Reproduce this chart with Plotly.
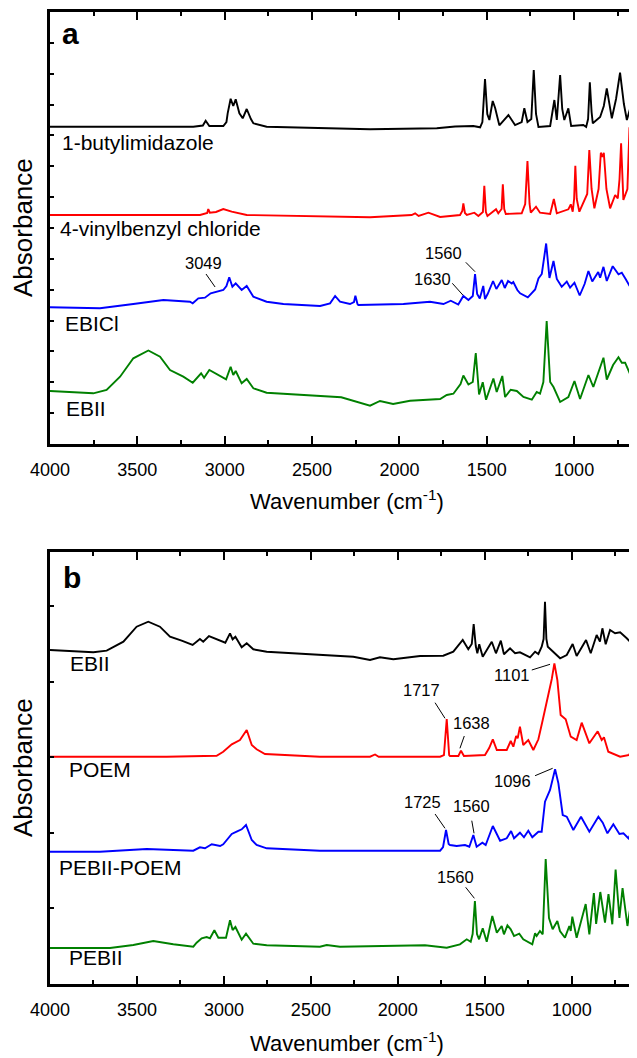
import plotly.graph_objects as go

# ---------------- data (wavenumber cm-1, absorbance in arbitrary stacked units) ----------------
# Panel a
a_butylimidazole = [(4000,317.3),(3180,317.3),(3125,318.5),(3109,323.3),(3088,318),(3008,318),(2990,322),(2983,330.7),
    (2966,345.3),(2951,338),(2937,344.7),(2916,330.7),(2897,325.7),(2874,335),(2850,325),(2836,320.7),(2760,317.3),
    (2454,316),(2168,314.7),(1786,315.7),(1681,317.5),(1577,318),(1538,316.7),(1525,322),(1510,365),(1497,330),
    (1485,324),(1466,343),(1452,336),(1428,318.7),(1376,329),(1338,319),(1300,322),(1285,335.7),(1267,322),(1245,325),
    (1231,374),(1218,330),(1204,317),(1137,318),(1113,344),(1099,324),(1080,369),(1068,335),(1056,324),(1033,335.7),
    (1017,318),(947,319),(931,317),(920,325),(910,361.7),(900,332),(893,320.7),(851,327),(830,338),(813,355.7),
    (795,335),(784,325.7),(760,345),(737,371.3),(715,340),(698,324),(672,340),(666,413.3),(660,340),(655,324),(640,332)]
a_vinylbenzyl = [(4000,229),(3141,229),(3100,231),(3094,235),(3085,231.3),(3050,232),(3008,235),(2960,232.3),(2874,229),
    (2454,228),(2168,226.7),(1930,229),(1910,230.7),(1890,228),(1834,231.3),(1767,227),(1653,229),(1640,233),(1634,240.7),
    (1625,231),(1614,229),(1571,231.3),(1548,228),(1522,232),(1514,258.3),(1505,232),(1496,228),(1447,234.7),(1434,230.7),
    (1415,235),(1408,259.7),(1400,235),(1391,230),(1300,230.7),(1280,240),(1267,283),(1255,240),(1248,231.3),(1218,237.3),
    (1195,231.3),(1137,230),(1116,245),(1099,230.7),(1033,234.7),(1019,239.7),(1008,232.3),(1000,245),(993,278.3),
    (985,245),(970,232.3),(925,250),(913,294),(900,255),(884,235.7),(860,255),(847,291.3),(838,287),(830,291.3),
    (815,255),(794,235.7),(765,249),(750,245.7),(740,265),(731,300.7),(725,270),(718,244),(695,255),(683,316.7),
    (672,280),(652,255.7),(640,262)]
a_ebicl = [(4000,136.7),(3714,135.7),(3523,140),(3351,144),(3199,142.3),(3183,140.7),(3151,145.7),(3113,146.3),(3080,150.7),
    (3046,152.3),(3008,154),(2990,158),(2974,166.7),(2956,157.3),(2937,160.7),(2903,154),(2874,158),(2836,147.3),
    (2760,142.3),(2664,140),(2454,138),(2397,140.7),(2368,148),(2340,142.3),(2283,140),(2260,142),(2252,148.3),(2240,140),
    (2235,139),(1977,140),(1825,142.3),(1748,140),(1706,143.3),(1663,139.5),(1634,148),(1605,144),(1580,148),(1567,170),
    (1555,150),(1540,145.5),(1520,158),(1510,145),(1495,150),(1464,163),(1445,155),(1414,164),(1397,156),(1378,163),
    (1357,160.5),(1348,162),(1325,154),(1309,150.7),(1265,146.7),(1223,154.5),(1204,165.5),(1185,170),(1160,200.5),
    (1141,166),(1118,183),(1099,165),(1071,157.2),(1042,162.5),(1023,156.3),(998,161.3),(968,148.5),(940,160),(918,173),
    (896,162.5),(862,172),(851,166.3),(832,177.1),(813,163),(779,177.8),(746,169.6),(727,171.3),(705,165),(682,158),
    (651,175.5),(640,180.7)]
a_ebii = [(4000,53),(3847,51.3),(3752,50.7),(3676,54),(3599,67.3),(3523,85.7),(3437,93.5),(3370,87.3),(3313,74),(3237,67.3),
    (3183,61.3),(3135,70.7),(3118,66.3),(3088,74),(3036,69),(2992,64.7),(2966,77.3),(2951,69),(2937,73),(2903,60.7),
    (2874,65),(2836,55.7),(2760,51.3),(2454,48),(2333,46.7),(2168,38.3),(2111,43),(2036,40),(1939,43.3),(1767,45),
    (1729,49),(1691,50.3),(1650,60),(1634,68.5),(1605,59.5),(1580,62),(1563,91),(1544,49.5),(1523,61.8),(1504,44.2),
    (1462,65.5),(1443,52),(1411,68),(1395,47),(1363,54.3),(1328,53),(1290,47),(1242,44.3),(1214,52),(1195,50.3),
    (1176,62),(1157,123),(1137,62),(1118,57),(1080,42),(1033,47),(998,63),(966,45),(918,69),(890,57),(860,72),
    (832,86.3),(813,64.5),(777,79),(746,86.7),(727,81.3),(708,81.3),(680,70),(644,93),(640,97)]

# Panel b
b_ebii = [(4000,334),(3751,331.7),(3674,333.3),(3578,342.3),(3502,357.3),(3435,362.3),(3368,357.3),(3310,347.3),(3243,343.3),
    (3180,339),(3138,345),(3119,342.3),(3086,348),(3032,344),(2992,341.3),(2965,350.7),(2950,344.7),(2934,347.3),
    (2898,336.7),(2869,340.7),(2831,334.7),(2754,332.3),(2448,329),(2256,327.3),(2160,324),(2103,326.7),(2026,324.7),
    (1872,328),(1739,328.3),(1681,332.3),(1627,344),(1595,334.7),(1575,340),(1564,360),(1552,338),(1543,330.7),
    (1532,339.7),(1512,327.3),(1460,342.3),(1436,330.7),(1408,343.3),(1390,329.7),(1355,335.7),(1326,330.7),(1298,331.7),
    (1240,326.7),(1211,332.3),(1192,330),(1173,337.3),(1162,345),(1154,382.3),(1146,345),(1138,337.3),(1119,334),
    (1067,325.7),(1029,329),(995,340),(972,328),(918,344),(891,330.7),(857,349),(838,342.3),(824,355.7),(805,339.7),
    (780,354),(751,350.7),(722,351.7),(684,345.7),(665,342.3),(636,360.7),(625,359)]
b_poem = [(4000,227.3),(3329,227.3),(3042,228.3),(3004,232.3),(2955,239.7),(2908,244),(2869,254),(2840,239),(2812,234.7),
    (2764,230),(2448,227.3),(2160,227.3),(2131,229.5),(2110,227.3),(1757,227.3),(1735,229),(1719,265),(1705,229),
    (1700,228),(1652,228),(1637,233.3),(1620,228),(1499,229),(1475,236),(1454,244.7),(1431,234),(1374,234),(1351,243),
    (1336,237.3),(1320,248),(1311,245.7),(1298,257.3),(1279,239),(1250,244),(1221,234),(1192,244.7),(1167,264),
    (1135,287.3),(1115,305),(1100,320.7),(1083,304),(1064,269),(1035,264.7),(1006,247.3),(972,244),(943,261.3),
    (899,240.7),(851,252.7),(828,244),(815,246.7),(790,232.3),(722,227.3),(670,229),(655,235.7),(625,231.3)]
b_pebii_poem = [(4000,132.3),(3713,132.3),(3444,135),(3176,133.3),(3138,136.7),(3109,135.7),(3070,139.7),(3022,138),
    (3004,139.7),(2955,150),(2927,152.3),(2898,154.7),(2873,159),(2840,144),(2812,139),(2754,135.7),(2448,133.3),
    (1757,133.3),(1740,137),(1723,154),(1708,140),(1700,139),(1662,138),(1614,139),(1589,137.3),(1566,149),(1547,137.3),
    (1514,141.3),(1495,139),(1454,158),(1412,143.3),(1374,145.7),(1349,153),(1332,145.7),(1298,151.3),(1275,146.7),
    (1250,153.3),(1227,146.7),(1192,152.3),(1173,152.3),(1154,182.3),(1125,194),(1096,214.7),(1077,200.7),(1052,169),
    (1029,167.3),(991,154),(947,167.3),(899,152.3),(847,167.3),(822,161.3),(795,150.7),(761,159.7),(726,150),(703,150.7),
    (674,145.7),(646,155.7),(625,154)]
b_pebii = [(4000,36),(3655,36),(3521,39),(3406,43),(3291,39.7),(3176,37.3),(3157,41.3),(3128,45.7),(3099,47),(3080,45.7),
    (3055,53.7),(3032,46.3),(2988,46.3),(2965,63.7),(2950,54),(2934,57),(2898,44.3),(2873,50.3),(2831,40.3),(2754,38.7),
    (2448,37.3),(2409,39),(2333,37.3),(1930,38),(1844,38.7),(1719,36.3),(1643,39.7),(1604,44.7),(1581,42.3),(1570,50),
    (1557,83),(1545,50),(1533,44.7),(1512,55.7),(1489,42.3),(1457,68),(1431,51.3),(1403,58),(1390,49.7),(1370,58.7),
    (1351,54.7),(1332,48),(1302,50.3),(1279,44.7),(1227,39.7),(1211,50.7),(1202,48),(1183,53),(1167,49.7),(1150,125),
    (1131,66),(1110,54.7),(1083,63),(1068,53),(1039,46.3),(1014,58),(1006,53),(997,67.3),(972,46.3),(920,80),(899,49.7),
    (873,91),(860,60),(836,92),(809,61.3),(789,90),(767,59.7),(748,114.5),(726,66),(708,96),(680,58),(642,99.5),(625,106)]

series_names_a = ["1-butylimidazole", "4-vinylbenzyl chloride", "EBICl", "EBII"]
series_names_b = ["EBII", "POEM", "PEBII-POEM", "PEBII"]
colors = ["#000000", "#ff0000", "#0000ff", "#008000"]

# series label anchor (wavenumber, absorbance)
label_pos_a = [(3943, 302), (3952, 216), (3927, 121), (3920, 36)]
label_pos_b = [(3895, 321), (3904, 215), (3961, 117), (3904, 27)]

# peak annotations: text, text position, leader line (wn pairs, abs pairs)
peaks_a = [("3049", (3124, 181), (3107, 3055), (170, 157)),
           ("1560", (1748, 191), (1620, 1567), (181.7, 172.3)),
           ("1630", (1813, 165), (1697, 1637), (160.7, 149))]
peaks_b = [("1101", (1344, 309), (1230, 1125), (314, 319.7)),
           ("1717", (1863, 294), (1786, 1729), (281.3, 265.7)),
           ("1638", (1574, 261), (1618, 1643), (248, 235.7)),
           ("1096", (1338, 203), (1211, 1110), (208.3, 215.7)),
           ("1725", (1861, 182), (1786, 1729), (170, 155.7)),
           ("1560", (1574, 178), (1575, 1562), (163.3, 150.7)),
           ("1560", (1666, 107), (1610, 1560), (96.7, 85.7))]

x_range_a = [4000, 640]
x_range_b = [4000, 625]
y_range = [0, 432]

FONT = "Arial, 'Liberation Sans', Helvetica, sans-serif"

fig = go.Figure()

def add_panel(spectra, xa, ya):
    for spec, col in zip(spectra, colors):
        fig.add_trace(go.Scatter(x=[p[0] for p in spec], y=[p[1] for p in spec], mode="lines",
                                 line=dict(color=col, width=1.9), xaxis=xa, yaxis=ya,
                                 showlegend=False, hoverinfo="skip"))

add_panel([a_butylimidazole, a_vinylbenzyl, a_ebicl, a_ebii], "x", "y")
add_panel([b_ebii, b_poem, b_pebii_poem, b_pebii], "x2", "y2")

annotations = []

def add_peaks(peaks, xa, ya):
    for txt, (tx, ty), lx, ly in peaks:
        fig.add_trace(go.Scatter(x=list(lx), y=list(ly), mode="lines", line=dict(color="black", width=1),
                                 xaxis=xa, yaxis=ya, showlegend=False, hoverinfo="skip"))
        annotations.append(dict(x=tx, y=ty, xref=xa, yref=ya, text=txt, showarrow=False,
                                font=dict(size=16.5, color="black", family=FONT)))

add_peaks(peaks_a, "x", "y")
add_peaks(peaks_b, "x2", "y2")

for names, pos, xa, ya in [(series_names_a, label_pos_a, "x", "y"), (series_names_b, label_pos_b, "x2", "y2")]:
    for n, (px, py) in zip(names, pos):
        annotations.append(dict(x=px, y=py, xref=xa, yref=ya, text=n, showarrow=False, xanchor="left",
                                yanchor="middle", font=dict(size=21, color="black", family=FONT)))

# panel letters
annotations.append(dict(x=3945, y=411, xref="x", yref="y", text="<b>a</b>", showarrow=False, xanchor="left",
                        yanchor="middle", font=dict(size=30, color="black", family=FONT)))
annotations.append(dict(x=3935, y=407, xref="x2", yref="y2", text="<b>b</b>", showarrow=False, xanchor="left",
                        yanchor="middle", font=dict(size=30, color="black", family=FONT)))

# the page body adds an 8px offset; size the figure so the plot lands where the reference has it
OFF = 8
W, H = 637 - OFF, 1058 - OFF
ML, MT, MB = 50 - OFF, 12 - OFF, 74
plot_h = H - MT - MB

def px_to_paper_x(px):
    return (px - OFF - ML) / (W - ML)

def py_to_paper(py):
    return 1 - (py - OFF - MT) / plot_h

for cy in (500, 1042):
    annotations.append(dict(x=px_to_paper_x(347), y=py_to_paper(cy), xref="paper", yref="paper",
                            text="Wavenumber (cm<sup>-1</sup>)", showarrow=False, xanchor="center", yanchor="middle",
                            font=dict(size=22, color="black", family=FONT)))
for cy in (228, 768):
    annotations.append(dict(x=px_to_paper_x(23), y=py_to_paper(cy), xref="paper", yref="paper",
                            text="Absorbance", textangle=-90, showarrow=False, xanchor="center", yanchor="middle",
                            font=dict(size=26, color="black", family=FONT)))

def xaxis_style(rng, anchor, dom):
    return dict(range=rng, domain=dom, anchor=anchor, showline=True, linecolor="black", linewidth=2.5,
                mirror="ticks", ticks="inside", ticklen=8, tickwidth=2, tickcolor="black",
                tick0=0, dtick=500, showgrid=False, zeroline=False,
                tickfont=dict(size=18, color="black", family=FONT), ticklabelstandoff=8,
                minor=dict(ticks="inside", ticklen=4, tickwidth=1.5, tickcolor="black", dtick=250, tick0=0,
                           showgrid=False))

def yaxis_style(dom, anchor, dt):
    return dict(range=y_range, domain=dom, anchor=anchor, showline=True, linecolor="black", linewidth=2.5,
                mirror=False, ticks="inside", ticklen=4, tickwidth=1.5, tickcolor="black",
                tick0=0, dtick=dt, showticklabels=False, showgrid=False, zeroline=False)

dom_a = [(plot_h - 432) / plot_h, 1.0]
dom_b = [0.0, 432 / plot_h]

fig.update_layout(
    width=W, height=H,
    margin=dict(l=ML, r=0, t=MT, b=MB, pad=0),
    paper_bgcolor="white", plot_bgcolor="white",
    font=dict(family=FONT, color="black"),
    xaxis=xaxis_style(x_range_a, "y", [0, 1]),
    yaxis=yaxis_style(dom_a, "x", 432 / 14),
    xaxis2=xaxis_style(x_range_b, "y2", [0, 1]),
    yaxis2=yaxis_style(dom_b, "x2", 75.6),
    annotations=annotations,
    showlegend=False,
)

fig.write_html("out.html")
